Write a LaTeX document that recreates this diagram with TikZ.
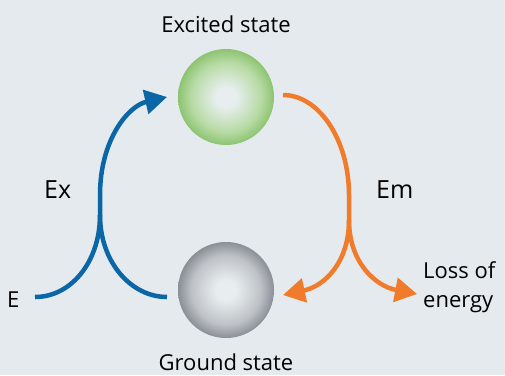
\documentclass[tikz,border=0pt]{standalone}
\usepackage{fontspec}
\setmainfont{Open Sans}
\usetikzlibrary{arrows.meta}
\definecolor{bg}{HTML}{E5EAEE}
\definecolor{bluearr}{HTML}{0B66A6}
\definecolor{orangearr}{HTML}{F07B2A}
\definecolor{ballcenter}{HTML}{E8EEF0}
\definecolor{greenmid}{HTML}{B8DBA5}
\definecolor{greenedge}{HTML}{8CC471}
\definecolor{graymid}{HTML}{BEC2C7}
\definecolor{grayedge}{HTML}{8A8F96}
\pgfdeclareradialshading{greenball}{\pgfpoint{0bp}{0bp}}{color(0bp)=(ballcenter); color(5bp)=(ballcenter); color(18bp)=(greenmid); color(25bp)=(greenedge); color(50bp)=(greenedge)}
\pgfdeclareradialshading{grayball}{\pgfpoint{0bp}{0bp}}{color(0bp)=(ballcenter); color(5bp)=(ballcenter); color(18bp)=(graymid); color(25bp)=(grayedge); color(50bp)=(grayedge)}
\tikzset{
  lbl/.style={inner sep=0pt, font=\fontsize{22}{29}\selectfont, text=black},
  biglbl/.style={inner sep=0pt, font=\fontsize{25}{30}\selectfont, text=black},
  bluepath/.style={draw=bluearr, line width=4.5pt},
  orangepath/.style={draw=orangearr, line width=4.5pt},
  bigtip/.style={-{Triangle[length=22pt,width=24pt]}},
}
\begin{document}
\begin{tikzpicture}[x=1pt,y=-1pt]
\fill[bg] (0,0) rectangle (505,375);
\useasboundingbox (0,0) rectangle (505,375);
% balls
\shade[shading=greenball] (226,97) circle[radius=48];
\shade[shading=grayball] (226,290) circle[radius=48];
\node[circle, minimum size=96pt, inner sep=0pt] (excited) at (226,97) {};
\node[circle, minimum size=96pt, inner sep=0pt] (ground) at (226,290) {};
% labels
\node[lbl, anchor=base] (exlbl) at (226,32.5) {Excited state};
\node[lbl, anchor=base] (grlbl) at (226,370) {Ground state};
\node[biglbl, anchor=base west] (ex) at (44,198) {Ex};
\node[biglbl, anchor=base west] (em) at (376,198) {Em};
\node[lbl, anchor=base west] (e) at (7,307) {E};
\node[lbl, anchor=base west, align=left] (loss) at (423,307) {Loss of\\energy};
% coordinates
\coordinate (bstart) at (35,297);
\coordinate (bret) at (167,297);
\coordinate (bcusp) at (100,215);
\coordinate (bup) at (100,195);
\coordinate (btip) at (167,97);
\coordinate (ostart) at (283,95);
\coordinate (odown) at (349,195);
\coordinate (ocusp) at (349,220);
\coordinate (oleft) at (283,295);
\coordinate (oright) at (417,294);
% blue
\path[bluepath] (bstart) .. controls (71,297) and (100,262) .. (bcusp);
\path[bluepath] (bret) .. controls (131,297) and (100,262) .. (bcusp);
\path[bluepath, bigtip] (bcusp) -- (bup) .. controls (100,140) and (128,106) .. (btip);
% orange
\path[orangepath] (ostart) .. controls (319,95) and (349,140) .. (odown) -- (ocusp);
\path[orangepath, bigtip] (ocusp) .. controls (349,262) and (325,286) .. (oleft);
\path[orangepath, bigtip] (ocusp) .. controls (349,262) and (375,286) .. (oright);
\end{tikzpicture}
\end{document}
